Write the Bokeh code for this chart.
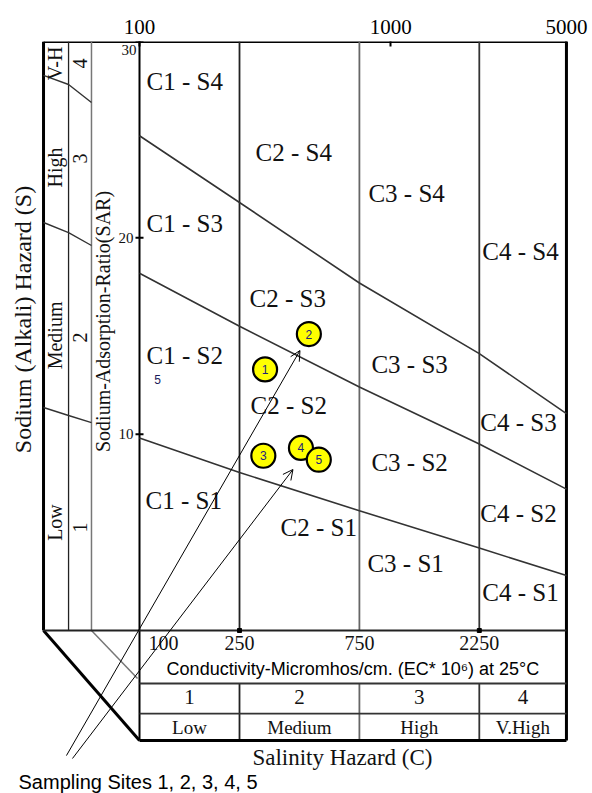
from bokeh.plotting import figure
from bokeh.models import Range1d, FixedTicker, Arrow, OpenHead, ColumnDataSource
from bokeh.core.properties import value
from bokeh.embed import file_html
from bokeh.resources import INLINE

SERIF = value("Liberation Serif")
SANS = value("Liberation Sans")

# ---------------- data ----------------
# salinity class boundaries (EC, micromhos/cm)
ec_bounds = [100, 250, 750, 2250, 5000]
ec_bound_labels = ["100", "250", "750", "2250"]
top_ticks = [100, 1000, 5000]
sar_ticks = [10, 20, 30]

# sodium hazard boundary lines: SAR at each EC boundary
sar_s3_s4 = [25.2, 21.8, 17.7, 14.1, 11.05]
sar_s2_s3 = [18.2, 15.5, 12.4, 9.5, 7.2]
sar_s1_s2 = [9.8, 8.05, 6.1, 4.2, 2.8]

# sampling sites
site_ids = ["1", "2", "3", "4", "5"]
site_ec = [316, 472, 311, 439, 517]
site_sar = [13.3, 15.1, 8.9, 9.3, 8.7]

# salinity hazard classes
sal_class_num = ["1", "2", "3", "4"]
sal_class_name = ["Low", "Medium", "High", "V.High"]

# sodium hazard classes (left scale)
sod_class_name = ["Low", "Medium", "High", "V-H"]
sod_class_num = ["1", "2", "3", "4"]

# zone labels
zone_text = ["C1 - S4", "C2 - S4", "C3 - S4", "C4 - S4",
             "C1 - S3", "C2 - S3", "C3 - S3", "C4 - S3",
             "C1 - S2", "C2 - S2", "C3 - S2", "C4 - S2",
             "C1 - S1", "C2 - S1", "C3 - S1", "C4 - S1"]
zone_ec = [100, 250, 750, 2250] * 4
zone_sar = [27.96, 24.35, 22.26, 19.30,
            20.73, 16.91, 13.55, 10.59,
            14.01, 11.46, 8.56, 5.96,
            6.62, 5.25, 3.41, 1.94]
zone_dx = [7, 16, 9, 3,
           7, 10, 12, 1,
           7, 11, 12, 1,
           6, 41, 8, 3]

# ---------------- layout constants (EC / SAR units of the drawing) ----------------
X_LO, X_HI = 27.98, 6348.0
Y_LO, Y_HI = -8.302, 30.0
X_OUT, X_COL2, X_COL3 = 41.5, 52.2, 64.4          # left scale column edges
ROW1, ROW2, ROW3 = -2.70, -4.23, -5.60             # table row lines

p = figure(width=592, height=793, x_axis_type="log", x_axis_location="above",
           y_axis_location=None, x_range=Range1d(X_LO, X_HI), y_range=Range1d(Y_LO, Y_HI),
           toolbar_location=None, output_backend="svg",
           min_border_left=0, min_border_right=0, min_border_bottom=0, min_border_top=41)
p.outline_line_color = None
p.grid.visible = False
p.background_fill_color = "white"

ax = p.xaxis[0]
ax.ticker = FixedTicker(ticks=top_ticks, minor_ticks=[])
ax.major_label_overrides = {t: str(t) for t in top_ticks}
ax.axis_line_color = None
ax.major_tick_in = 5
ax.major_tick_out = 0
ax.major_tick_line_width = 2
ax.major_tick_line_color = "black"
ax.major_label_standoff = 8
ax.major_label_text_font = "Liberation Serif"
ax.major_label_text_font_size = "21px"
ax.major_label_text_color = "black"

# ---- frame lines ----
# top thick line
p.segment(x0=[X_OUT], y0=[30], x1=[ec_bounds[-1]], y1=[30], line_color="black", line_width=3)
# left outer thick line + slanted corner
p.segment(x0=[X_OUT], y0=[30], x1=[X_OUT], y1=[0], line_color="black", line_width=3)
p.segment(x0=[X_OUT], y0=[0], x1=[ec_bounds[0]], y1=[ROW3], line_color="black", line_width=3)
# inner left columns
p.segment(x0=[X_COL2], y0=[30], x1=[X_COL2], y1=[0], line_color="#222222", line_width=1.3)
p.segment(x0=[X_COL3], y0=[30], x1=[X_COL3], y1=[0], line_color="#777777", line_width=1.5)
p.segment(x0=[X_COL3], y0=[0], x1=[98.2], y1=[-2.44], line_color="#777777", line_width=1.5)
# EC=100 line
p.segment(x0=[100], y0=[30], x1=[100], y1=[ROW3], line_color="black", line_width=2)
# right edge
p.segment(x0=[5000], y0=[30], x1=[5000], y1=[ROW3], line_color="black", line_width=3)
# class boundaries
p.segment(x0=ec_bounds[1:4], y0=[30] * 3, x1=ec_bounds[1:4], y1=[0] * 3,
          line_color=["#222222", "#666666", "#333333"], line_width=1.8)
p.segment(x0=ec_bounds[1:4], y0=[ROW1] * 3, x1=ec_bounds[1:4], y1=[ROW3] * 3,
          line_color=["#222222", "#666666", "#333333"], line_width=1.8)
# horizontal table lines
p.segment(x0=[X_OUT], y0=[0], x1=[5000], y1=[0], line_color="#222222", line_width=1.8)
p.segment(x0=[100, 100], y0=[ROW1, ROW2], x1=[5000, 5000], y1=[ROW1, ROW2],
          line_color="#333333", line_width=1.8)
p.segment(x0=[100], y0=[ROW3], x1=[5000], y1=[ROW3], line_color="black", line_width=3)

# ---- sodium hazard boundary lines ----
for ys in (sar_s3_s4, sar_s2_s3, sar_s1_s2):
    p.line(ec_bounds, ys, line_color="#333333", line_width=1.6)

# left scale continuation lines
left_x = [X_OUT, X_COL2, X_COL3]
for ys in ([28.27, 27.81, 26.89], [20.78, 20.27, 19.61], [11.36, 10.95, 10.59]):
    p.line(left_x, ys, line_color="#333333", line_width=1.4)

# small tick marks
p.scatter([100, 100, 100], sar_ticks, marker="dash", size=8, line_width=2, line_color="black")
p.scatter([250, 2250], [0, 0], marker="square", size=4, color="black")

# ---- texts ----
zsrc = ColumnDataSource(dict(x=zone_ec, y=zone_sar, t=zone_text, dx=zone_dx))
p.text(x="x", y="y", text="t", x_offset="dx", source=zsrc, text_font=SERIF,
       text_font_size="25px", text_align="left", text_baseline="middle", text_color="#111111")

# SAR tick labels
p.text(x=[100, 100], y=[10, 20], text=["10", "20"], x_offset=-6, text_font=SERIF,
       text_font_size="15px", text_align="right", text_baseline="middle", text_color="#111111")
p.text(x=[100], y=[30], text=["30"], x_offset=-3, y_offset=3, text_font=SERIF,
       text_font_size="15px", text_align="right", text_baseline="top", text_color="#111111")
p.text(x=[100], y=[12.78], text=["5"], x_offset=18, text_font=SANS,
       text_font_size="12px", text_align="center", text_baseline="middle", text_color="#1a1a5a")

# left scale rotated labels
p.text(x=[46.3] * 4, y=[5.50, 15.03, 23.58, 28.88], text=sod_class_name, angle=1.5708,
       text_font=SERIF, text_font_size="20px", text_align="center", text_baseline="middle",
       text_color="#111111")
p.text(x=[58.2] * 4, y=[5.25, 14.92, 24.04, 28.88], text=sod_class_num, angle=1.5708,
       text_font=SERIF, text_font_size="20px", text_align="center", text_baseline="middle",
       text_color="#111111")
p.text(x=[71.3], y=[15.74], text=["Sodium-Adsorption-Ratio(SAR)"], angle=1.5708,
       text_font=SERIF, text_font_size="20px", text_align="center", text_baseline="middle",
       text_color="#111111")
p.text(x=[34.5], y=[15.84], text=["Sodium (Alkali) Hazard (S)"], angle=1.5708,
       text_font=SERIF, text_font_size="24px", text_align="center", text_baseline="middle",
       text_color="#111111")

# bottom table texts
p.text(x=[100], y=[-0.66], text=[ec_bound_labels[0]], x_offset=9, text_font=SERIF,
       text_font_size="20px", text_align="left", text_baseline="middle", text_color="#111111")
p.text(x=ec_bounds[1:4], y=[-0.66] * 3, text=ec_bound_labels[1:], text_font=SERIF,
       text_font_size="20px", text_align="center", text_baseline="middle", text_color="#111111")
p.text(x=[707], y=[-1.94], text=["Conductivity-Micromhos/cm. (EC* 10\u2076) at 25\u00b0C"],
       text_font=SANS, text_font_size="18px", text_align="center", text_baseline="middle",
       text_color="black")
mid_ec = [(ec_bounds[i] * ec_bounds[i + 1]) ** 0.5 for i in range(4)]
p.text(x=mid_ec, y=[-3.41] * 4, text=sal_class_num, text_font=SERIF, text_font_size="21px",
       text_align="center", text_baseline="middle", text_color="#111111")
p.text(x=mid_ec, y=[-4.94] * 4, text=sal_class_name, text_font=SERIF, text_font_size="19px",
       text_align="center", text_baseline="middle", text_color="#111111")
p.text(x=[642], y=[-6.47], text=["Salinity Hazard (C)"], text_font=SERIF, text_font_size="23px",
       text_align="center", text_baseline="middle", text_color="#111111")
p.text(x=[33.0], y=[-7.74], text=["Sampling  Sites 1, 2, 3, 4, 5"], text_font=SANS,
       text_font_size="20px", text_align="left", text_baseline="middle", text_color="black")

# ---- arrows ----
arrow_tail_ec = [51.2, 54.1]
arrow_tail_sar = [-6.37, -6.52]
arrow_head_ec = [435, 408]
arrow_head_sar = [14.26, 8.20]
for i in range(2):
    p.add_layout(Arrow(end=OpenHead(size=10, line_width=1, line_color="black"),
                       x_start=arrow_tail_ec[i], y_start=arrow_tail_sar[i],
                       x_end=arrow_head_ec[i], y_end=arrow_head_sar[i],
                       line_width=1, line_color="black"))

# ---- sampling sites ----
p.scatter(site_ec, site_sar, size=24, fill_color="#ffff00", line_color="black", line_width=2.2)
p.text(x=site_ec, y=site_sar, text=site_ids, text_font=SANS, text_font_size="12px",
       text_align="center", text_baseline="middle", text_color="#23237a")

open("out.html", "w").write(file_html(p, INLINE))
